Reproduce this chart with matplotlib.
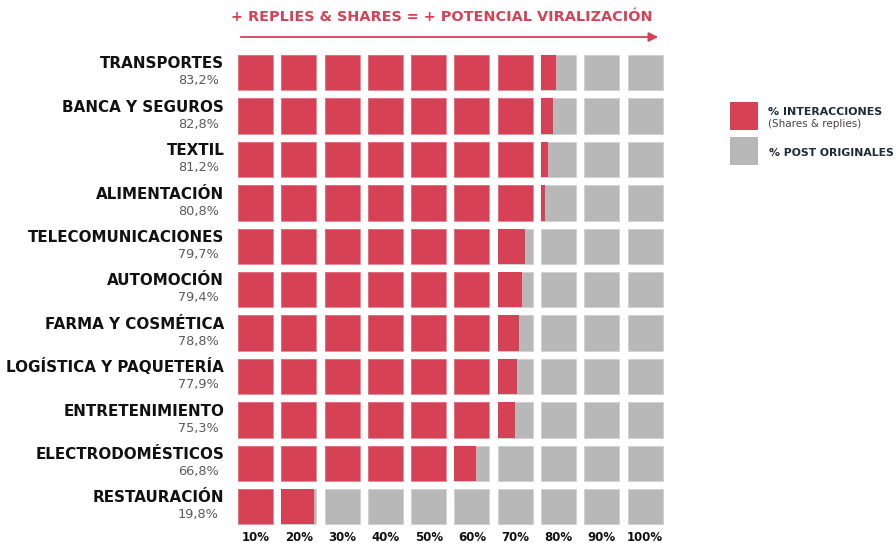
import matplotlib
matplotlib.use("Agg")
import matplotlib.pyplot as plt
from matplotlib.patches import Rectangle, FancyArrowPatch

# ---- data ----
categories = ["TRANSPORTES", "BANCA Y SEGUROS", "TEXTIL", "ALIMENTACIÓN",
              "TELECOMUNICACIONES", "AUTOMOCIÓN", "FARMA Y COSMÉTICA",
              "LOGÍSTICA Y PAQUETERÍA", "ENTRETENIMIENTO", "ELECTRODOMÉSTICOS",
              "RESTAURACIÓN"]
value_labels = ["83,2%", "82,8%", "81,2%", "80,8%", "79,7%", "79,4%",
                "78,8%", "77,9%", "75,3%", "66,8%", "19,8%"]
# filled blocks as drawn in the reference (out of 10 blocks)
fill_blocks = [7.43, 7.33, 7.19, 7.10, 6.78, 6.69, 6.62, 6.54, 6.48, 5.62, 1.94]
tick_labels = ["10%", "20%", "30%", "40%", "50%", "60%", "70%", "80%", "90%", "100%"]

RED = "#D64156"
GRAY = "#B8B8B8"
W, H = 896, 543

fig = plt.figure(figsize=(W / 100, H / 100), dpi=100)
fig.patch.set_facecolor("white")

# grid axes: column pitch 43.3px, row pitch 43.4px
pitch_x, pitch_y = 43.3, 43.4
ax_left_px = 233.8
ax_top_px = 51.0
ax = fig.add_axes([ax_left_px / W, 1 - (ax_top_px + 11 * pitch_y) / H,
                   10 * pitch_x / W, 11 * pitch_y / H])
ax.set_xlim(0, 10)
ax.set_ylim(11, 0)
ax.axis("off")

bw = 35.0 / pitch_x
bh = 35.5 / pitch_y
mx = (1 - bw) / 2
my = (1 - bh) / 2

for r, fb in enumerate(fill_blocks):
    for c in range(10):
        x0 = c + mx
        y0 = r + my
        frac = min(max(fb - c, 0), 1)
        if frac < 1:
            ax.add_patch(Rectangle((x0, y0), bw, bh, facecolor=GRAY,
                                   edgecolor="#D0D0D0", linewidth=0.6))
        if frac > 0:
            ax.add_patch(Rectangle((x0, y0), bw * frac, bh, facecolor=RED,
                                   edgecolor="none", linewidth=0))
            if frac == 1:
                ax.add_patch(Rectangle((x0, y0), bw, bh, facecolor="none",
                                       edgecolor="#E27A88", linewidth=0.6))

# row labels
for r, (cat, lab) in enumerate(zip(categories, value_labels)):
    ax.text(-0.22, r + 0.40, cat, ha="right", va="baseline", fontsize=10.9,
            fontweight="bold", color="#111111", family="DejaVu Sans")
    ax.text(-0.35, r + 0.77, lab, ha="right", va="baseline", fontsize=9.3,
            color="#5A5A5A", family="DejaVu Sans")

# bottom tick labels
for c, t in enumerate(tick_labels):
    ax.text(c + 0.5, 11.2, t, ha="center", va="center", fontsize=8.5,
            fontweight="bold", color="#111111", clip_on=False)

# title and arrow
fig.text(442 / W, 1 - 17 / H, "+ REPLIES & SHARES = + POTENCIAL VIRALIZACIÓN",
         ha="center", va="center", fontsize=10.4, fontweight="bold", color=RED)
arrow = FancyArrowPatch((238 / W, 1 - 37 / H), (661 / W, 1 - 37 / H),
                        transform=fig.transFigure, arrowstyle="-|>",
                        mutation_scale=14, color=RED, linewidth=1.3)
fig.add_artist(arrow)

# legend
fig.add_artist(Rectangle((730 / W, 1 - 130 / H), 28 / W, 28 / H,
                         transform=fig.transFigure, facecolor=RED, edgecolor="none"))
fig.add_artist(Rectangle((730 / W, 1 - 165 / H), 28 / W, 28 / H,
                         transform=fig.transFigure, facecolor=GRAY, edgecolor="none"))
fig.text(768 / W, 1 - 112 / H, "% INTERACCIONES", ha="left", va="center",
         fontsize=7.9, fontweight="bold", color="#1E2B3A")
fig.text(768 / W, 1 - 124 / H, "(Shares & replies)", ha="left", va="center",
         fontsize=7.5, color="#444444")
fig.text(769 / W, 1 - 153 / H, "% POST ORIGINALES", ha="left", va="center",
         fontsize=7.8, fontweight="bold", color="#1E2B3A")

fig.savefig("out.png", dpi=100, facecolor="white")
